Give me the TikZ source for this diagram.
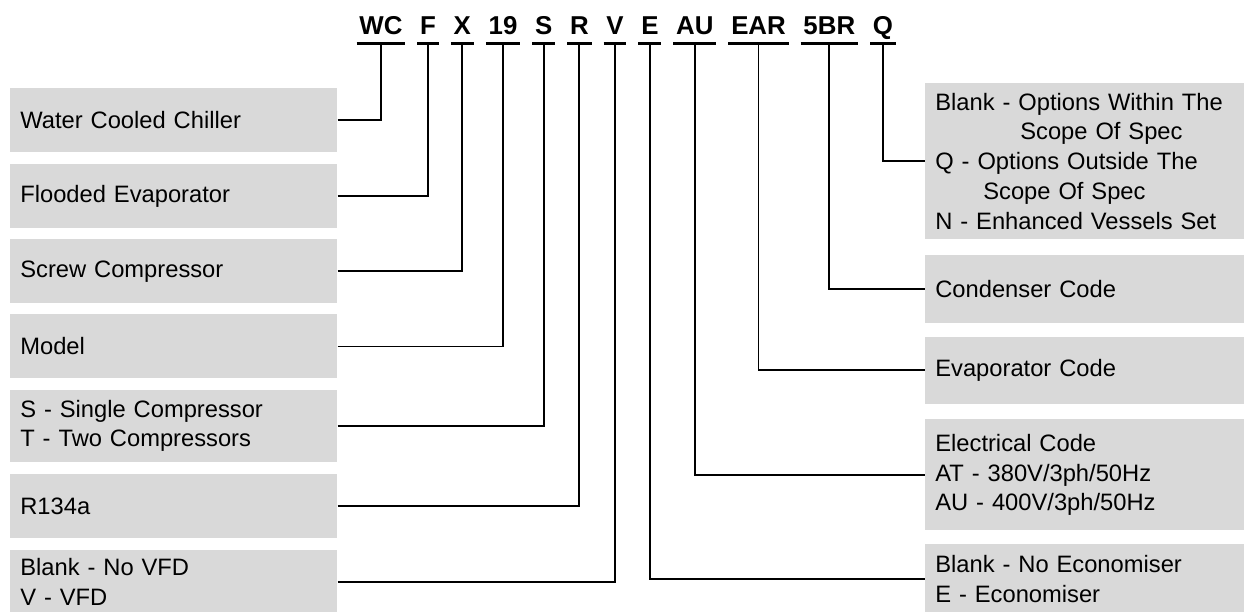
\documentclass[tikz,border=0pt]{standalone}
\usepackage{fontspec}
\setmainfont{Liberation Sans}
\usepackage{xcolor}
\usepackage{tikz}
\usetikzlibrary{positioning}
\definecolor{boxgray}{RGB}{217,217,217}

\begin{document}
\begin{tikzpicture}[
  code/.style={font=\fontsize{14.7}{17}\selectfont\bfseries,inner xsep=0.05cm,inner ysep=0pt,text height=0.37cm,text depth=0.16cm},
  lbox/.style={fill=boxgray,text width=6.14cm,inner xsep=0.2cm,minimum height=1.28cm,align=left,font=\fontsize{13.5}{17}\selectfont},
  rbox/.style={lbox,text width=5.98cm},
  uline/.style={line width=1.5pt},
  conn/.style={line width=1pt}
]
  \useasboundingbox (0,0) rectangle (24.96,-12.24);
  % model code
  \node[code,anchor=base] (cwc) at (7.62,-0.7) {WC};
  \node[code,right=0.24cm of cwc]  (cf)   {F};
  \node[code,right=0.24cm of cf]   (cx)   {X};
  \node[code,right=0.24cm of cx]   (c19)  {19};
  \node[code,right=0.24cm of c19]  (cs)   {S};
  \node[code,right=0.24cm of cs]   (cr)   {R};
  \node[code,right=0.24cm of cr]   (cv)   {V};
  \node[code,right=0.24cm of cv]   (ce)   {E};
  \node[code,right=0.24cm of ce]   (cau)  {AU};
  \node[code,right=0.24cm of cau]  (cear) {EAR};
  \node[code,right=0.24cm of cear] (c5br) {5BR};
  \node[code,right=0.24cm of c5br] (cq)   {Q};
  \draw[uline] (cwc.south west) -- (cwc.south east) (cf.south west) -- (cf.south east)
    (cx.south west) -- (cx.south east) (c19.south west) -- (c19.south east)
    (cs.south west) -- (cs.south east) (cr.south west) -- (cr.south east)
    (cv.south west) -- (cv.south east) (ce.south west) -- (ce.south east)
    (cau.south west) -- (cau.south east) (cear.south west) -- (cear.south east)
    (c5br.south west) -- (c5br.south east) (cq.south west) -- (cq.south east);
  % left column
  \node[lbox,anchor=north west] (chiller) at (0.2,-1.76) {Water Cooled Chiller};
  \node[lbox,below=0.22cm of chiller] (flooded) {Flooded Evaporator};
  \node[lbox,below=0.21cm of flooded] (screw)   {Screw Compressor};
  \node[lbox,below=0.21cm of screw]   (model)   {Model};
  \node[lbox,below=0.21cm of model,minimum height=1.45cm] (comp) {S - Single Compressor\\T - Two Compressors};
  \node[lbox,below=0.22cm of comp]    (refrig)  {R134a};
  \node[lbox,below=0.23cm of refrig]  (vfd)     {Blank - No VFD\\V - VFD};
  % right column
  \node[rbox,anchor=north west,minimum height=3.12cm] (options) at (18.5,-1.66)
    {Blank - Options Within The\\\hspace*{1.7cm}Scope Of Spec\\Q - Options Outside The\\\hspace*{0.96cm}Scope Of Spec\\N - Enhanced Vessels Set};
  \node[rbox,below=0.3cm of options,minimum height=1.36cm]  (condenser) {Condenser Code};
  \node[rbox,below=0.26cm of condenser,minimum height=1.34cm] (evap) {Evaporator Code};
  \node[rbox,below=0.3cm of evap,minimum height=2.22cm] (electrical) {Electrical Code\\AT - 380V/3ph/50Hz\\AU - 400V/3ph/50Hz};
  \node[rbox,below=0.26cm of electrical,minimum height=1.38cm] (econ) {Blank - No Economiser\\E - Economiser};
  % leaders
  \draw[conn] (chiller.east) -| (cwc.south);
  \draw[conn] (flooded.east) -| (cf.south);
  \draw[conn] (screw.east) -| (cx.south);
  \draw[conn] (model.east) -| (c19.south);
  \draw[conn] (comp.east) -| (cs.south);
  \draw[conn] (refrig.east) -| (cr.south);
  \draw[conn] (vfd.east) -| (cv.south);
  \draw[conn] (ce.south) |- (econ.west);
  \draw[conn] (cau.south) |- (electrical.west);
  \draw[conn] (cear.south) |- (evap.west);
  \draw[conn] (c5br.south) |- (condenser.west);
  \draw[conn] (cq.south) |- (options.west);
\end{tikzpicture}
\end{document}
